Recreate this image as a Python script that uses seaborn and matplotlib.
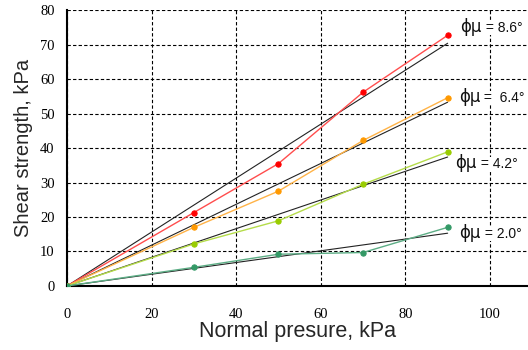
import matplotlib
matplotlib.use("Agg")
import matplotlib.pyplot as plt
import seaborn as sns
import pandas as pd
import numpy as np

# ---- data ----
normal_pressure = [0, 30, 50, 70, 90]
series_names = ["8.6°", "6.4°", "4.2°", "2.0°"]
shear_86 = [0, 21.3, 35.5, 56.2, 72.7]
shear_64 = [0, 17.0, 27.5, 42.2, 54.6]
shear_42 = [0, 12.2, 18.9, 29.5, 38.9]
shear_20 = [0, 5.4, 9.2, 9.7, 17.0]
fit_x = [0, 90]
fit_end_values = [70.4, 53.3, 37.4, 15.3]
label_values = ["= 8.6°", "=  6.4°", "= 4.2°", "= 2.0°"]
label_y = [75.2, 54.8, 35.6, 15.4]
label_x = [93.0, 92.6, 91.8, 92.8]

marker_colors = ["#ff0000", "#ff9900", "#99cc00", "#339966"]
line_colors = ["#ff4d4d", "#ffb347", "#b5dc4a", "#5cad85"]

sns.set_theme(style="white")
plt.rcParams["font.family"] = ["Liberation Sans", "DejaVu Sans"]

fig = plt.figure(figsize=(5.28, 3.5), dpi=100)
ax = fig.add_axes([0.127, 0.183, 0.873, 0.788])

all_series = [shear_86, shear_64, shear_42, shear_20]
frames = []
for name, ys in zip(series_names, all_series):
    frames.append(pd.DataFrame({"x": normal_pressure, "y": ys, "s": name}))
df = pd.concat(frames, ignore_index=True)

fit_frames = []
for name, end in zip(series_names, fit_end_values):
    fit_frames.append(pd.DataFrame({"x": fit_x, "y": [0, end], "s": name}))
fdf = pd.concat(fit_frames, ignore_index=True)

sns.lineplot(data=fdf, x="x", y="y", units="s", estimator=None,
             color="#222222", lw=0.8, ax=ax, zorder=3)

for name, lc, mc in zip(series_names, line_colors, marker_colors):
    sub = df[df["s"] == name]
    sns.lineplot(data=sub, x="x", y="y", color=lc, lw=1.0, ax=ax,
                 marker="o", markersize=3.8, markerfacecolor=mc,
                 markeredgecolor=mc, zorder=4)

for t, x, y in zip(label_values, label_x, label_y):
    sym = ax.text(x, y, "ϕμ", fontsize=12, ha="left", va="center",
                  color="#111111", family=["DejaVu Sans"],
                  bbox=dict(boxstyle="square,pad=0", fc="white", ec="none"))
    ax.annotate(" " + t, xy=(1, 0.45), xycoords=sym, fontsize=10,
                ha="left", va="center", color="#111111",
                annotation_clip=False,
                bbox=dict(boxstyle="square,pad=0", fc="white", ec="none"))

ax.set_xlim(0, 109)
ax.set_ylim(0, 80)
ax.set_xticks([0, 20, 40, 60, 80, 100])
ax.set_yticks(np.arange(0, 81, 10))
ax.grid(True, color="black", linestyle=(0, (3, 2)), linewidth=0.8)
for sp in ["top", "right"]:
    ax.spines[sp].set_visible(False)
for sp in ["left", "bottom"]:
    ax.spines[sp].set_color("black")
    ax.spines[sp].set_linewidth(1.5)
ax.tick_params(axis="x", direction="in", length=4, width=1.2, pad=16,
               labelsize=10.5, colors="black")
ax.tick_params(axis="y", direction="in", length=0, pad=9,
               labelsize=10.5, colors="black")
for lab in ax.get_xticklabels() + ax.get_yticklabels():
    lab.set_family(["Liberation Serif", "DejaVu Serif"])

ax.set_xlabel("Normal presure, kPa", fontsize=15.5, labelpad=0)
ax.set_ylabel("Shear strength, kPa", fontsize=14.5, labelpad=5)

fig.savefig("out.png", dpi=100)
